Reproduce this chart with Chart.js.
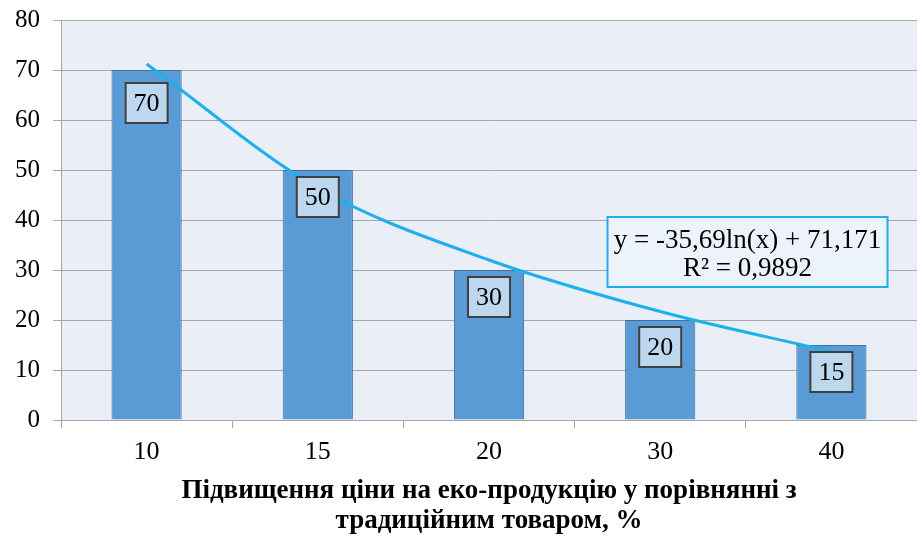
<!DOCTYPE html>
<html>
<head>
<meta charset="utf-8">
<script src="https://cdn.jsdelivr.net/npm/chart.js@4.4.0/dist/chart.umd.min.js"></script>
<style>
  html, body { margin: 0; padding: 0; background: #fff; }
  #wrap { width: 917px; height: 536px; }
</style>
</head>
<body>
<div id="wrap"><canvas id="ecoChart"></canvas></div>
<script>
var categories = ["10", "15", "20", "30", "40"];
var shareValues = [70, 50, 30, 20, 15];
// logarithmic trend at each category
var trendValues = [71.2, 46.4, 32.0, 21.7, 13.7];
var yTicks = [0, 10, 20, 30, 40, 50, 60, 70, 80];
var trendText = ["y = -35,69ln(x) + 71,171", "R\u00b2 = 0,9892"];
var xTitle = ["Підвищення ціни на еко-продукцію у порівнянні з", "традиційним товаром, %"];

var serif = "'Liberation Serif', 'Times New Roman', serif";

var plotBg = {
    id: 'plotBg',
    beforeDraw: function(chart) {
        var a = chart.chartArea, ctx = chart.ctx;
        ctx.save();
        ctx.fillStyle = '#E9EEF7';
        ctx.fillRect(a.left, a.top, a.right - a.left, a.bottom - a.top);
        ctx.restore();
    }
};

var barLabels = {
    id: 'barLabels',
    afterDraw: function(chart) {
        var ctx = chart.ctx;
        var meta = chart.getDatasetMeta(1);
        ctx.save();
        ctx.font = '26px ' + serif;
        ctx.textAlign = 'center';
        ctx.textBaseline = 'middle';
        meta.data.forEach(function(bar, i) {
            // first label sits a bit lower, below the trend line
            var cx = bar.x, cy = bar.y + (i === 0 ? 33 : 27);
            ctx.fillStyle = '#BDD7EE';
            ctx.fillRect(cx - 21, cy - 20, 42, 40);
            ctx.strokeStyle = '#404040';
            ctx.lineWidth = 2;
            ctx.strokeRect(cx - 21, cy - 20, 42, 40);
            ctx.fillStyle = '#000';
            ctx.fillText(String(shareValues[i]), cx, cy + 1);
        });
        // trend equation box
        var xs = chart.scales.x, ys = chart.scales.y;
        var bx = xs.getPixelForValue(3.51), by = ys.getPixelForValue(33.6);
        ctx.fillStyle = 'rgba(236,242,250,0.95)';
        ctx.fillRect(bx - 140, by - 35, 280, 70);
        ctx.strokeStyle = '#1DB0EA';
        ctx.lineWidth = 2;
        ctx.strokeRect(bx - 140, by - 35, 280, 70);
        ctx.fillStyle = '#000';
        ctx.font = '27px ' + serif;
        ctx.fillText(trendText[0], bx, by - 11);
        ctx.fillText(trendText[1], bx, by + 17);
        ctx.restore();
    }
};

var ctx = document.getElementById('ecoChart');
new Chart(ctx, {
    type: 'bar',
    data: {
        labels: categories,
        datasets: [{
            type: 'line',
            data: trendValues,
            borderColor: '#1DB0EA',
            borderWidth: 3,
            pointRadius: 0,
            cubicInterpolationMode: 'monotone',
            fill: false,
            order: 0
        }, {
            type: 'bar',
            data: shareValues,
            backgroundColor: '#5B9BD5',
            borderColor: '#41719C',
            borderWidth: 1,
            categoryPercentage: 1,
            barPercentage: 0.41,
            order: 1
        }]
    },
    options: {
        responsive: true,
        maintainAspectRatio: false,
        animation: false,
        layout: { padding: { top: 20, right: 0, bottom: 0, left: 0 } },
        plugins: { legend: { display: false }, tooltip: { enabled: false } },
        scales: {
            x: {
                afterFit: function(s) { s.height = 116; s.paddingLeft = 0; s.paddingRight = 0; },
                grid: { offset: true, drawOnChartArea: false, drawTicks: true, tickLength: 8, color: '#A6A6A6' },
                border: { color: '#A6A6A6' },
                ticks: { color: '#000', font: { family: serif, size: 26 }, padding: 9 },
                title: {
                    display: true,
                    text: xTitle,
                    color: '#000',
                    font: { family: serif, size: 27, weight: 'bold', lineHeight: 1.11 },
                    padding: { top: 0, bottom: 0 }
                }
            },
            y: {
                min: 0,
                max: 80,
                afterBuildTicks: function(s) { s.ticks = yTicks.map(function(v) { return { value: v }; }); },
                afterFit: function(s) { s.width = 61; s.paddingTop = 0; s.paddingBottom = 0; },
                grid: { color: '#A6A6A6', tickLength: 8 },
                border: { color: '#A6A6A6' },
                ticks: { color: '#000', font: { family: serif, size: 25 }, padding: 13 }
            }
        }
    },
    plugins: [plotBg, barLabels]
});
</script>
</body>
</html>
